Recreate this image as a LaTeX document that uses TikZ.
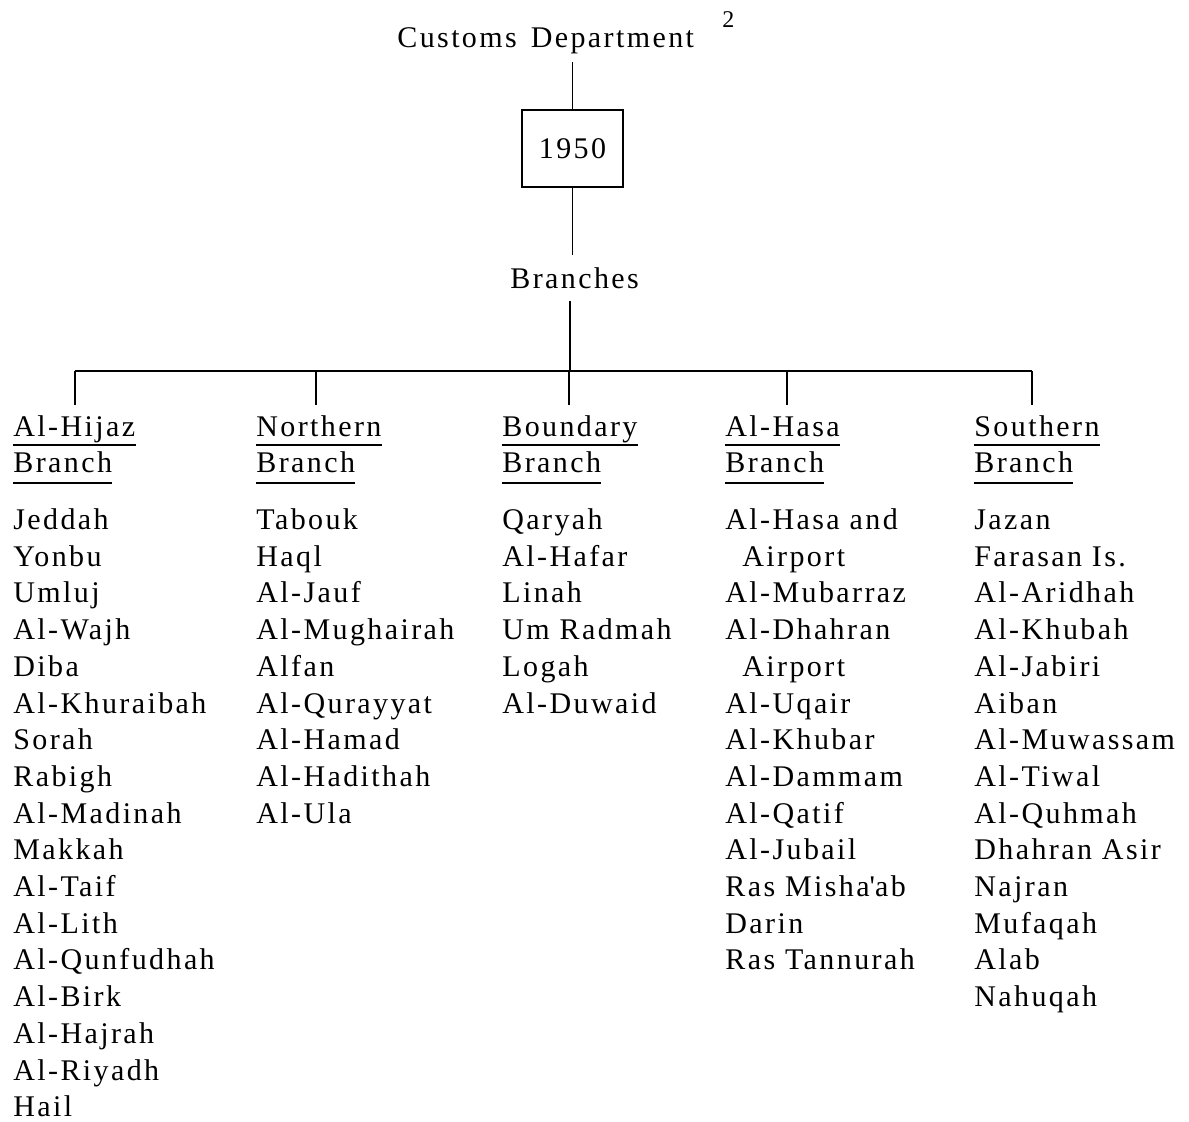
\documentclass[tikz,border=0pt]{standalone}
\usepackage{fontspec}
\setmainfont{Liberation Serif}[LetterSpace=8]
\begin{document}
\begin{tikzpicture}[x=0.5pt,y=-0.5pt,
  txt/.style={anchor=base west,inner sep=0pt,font=\fontsize{15}{18}\selectfont},
  yearbox/.style={draw,line width=0.7pt,minimum width=50.5pt,minimum height=38.5pt,inner sep=0pt,font=\fontsize{15}{18}\selectfont},
  conn/.style={line width=0.6pt},
  uline/.style={line width=0.7pt}]
\useasboundingbox (0,0) rectangle (1189,1121);
% top of the tree
\node[txt] (cd) at (397,47) {Customs\hspace{7pt}Department};
\node[txt,font=\fontsize{12}{14}\selectfont] (fn) at (722,27) {2};
\node[yearbox] (yr) at (572.5,148.5) {1950};
\node[txt] (br) at (510,288) {Branches};
\draw[conn,shorten >=4pt] (yr.north) -- (yr.north |- cd.south);
\draw[conn,shorten >=6pt] (yr.south) -- (yr.south |- br.north);
\coordinate (bar) at (570,371);
\draw[conn,shorten <=6pt] (br.south -| bar) -- (bar);
\coordinate (d1) at (75,371);
\coordinate (d2) at (316,371);
\coordinate (d3) at (569,371);
\coordinate (d4) at (787,371);
\coordinate (d5) at (1032,371);
\draw[conn] (d1) -- (d5);
% headings
\node[txt] (h1a) at (13,436) {Al-Hijaz};
\node[txt] (h1b) at (13,472) {Branch};
\node[txt] (h2a) at (256,436) {Northern};
\node[txt] (h2b) at (256,472) {Branch};
\node[txt] (h3a) at (502,436) {Boundary};
\node[txt] (h3b) at (502,472) {Branch};
\node[txt] (h4a) at (725,436) {Al-Hasa};
\node[txt] (h4b) at (725,472) {Branch};
\node[txt] (h5a) at (974,436) {Southern};
\node[txt] (h5b) at (974,472) {Branch};
\foreach \k in {1,...,5}
  \draw[conn,shorten >=5pt] (d\k) -- (d\k |- h\k a.north);
\foreach \n in {h1a,h2a,h3a,h4a,h5a}
  \draw[uline] ([yshift=-4.5pt]\n.base west) -- ([yshift=-4.5pt]\n.base east);
\foreach \n in {h1b,h2b,h3b,h4b,h5b}
  \draw[uline] ([yshift=-5.5pt]\n.base west) -- ([yshift=-5.5pt]\n.base east);
% lists
\foreach \t [count=\i from 0] in {Jeddah,Yonbu,Umluj,Al-Wajh,Diba,Al-Khuraibah,Sorah,Rabigh,Al-Madinah,Makkah,Al-Taif,Al-Lith,Al-Qunfudhah,Al-Birk,Al-Hajrah,Al-Riyadh,Hail}
  \node[txt] (a\i) at (13,{529.5+36.7*\i}) {\t};
\foreach \t [count=\i from 0] in {Tabouk,Haql,Al-Jauf,Al-Mughairah,Alfan,Al-Qurayyat,Al-Hamad,Al-Hadithah,Al-Ula}
  \node[txt] (b\i) at (256,{529.5+36.7*\i}) {\t};
\foreach \t [count=\i from 0] in {Qaryah,Al-Hafar,Linah,Um Radmah,Logah,Al-Duwaid}
  \node[txt] (c\i) at (502,{529.5+36.7*\i}) {\t};
\foreach \t [count=\i from 0] in {Al-Hasa and,\hspace*{8.5pt}Airport,Al-Mubarraz,Al-Dhahran,\hspace*{8.5pt}Airport,Al-Uqair,Al-Khubar,Al-Dammam,Al-Qatif,Al-Jubail,Ras Misha\textquotesingle ab,Darin,Ras Tannurah}
  \node[txt] (e\i) at (725,{529.5+36.7*\i}) {\t};
\foreach \t [count=\i from 0] in {Jazan,Farasan Is.,Al-Aridhah,Al-Khubah,Al-Jabiri,Aiban,Al-Muwassam,Al-Tiwal,Al-Quhmah,Dhahran Asir,Najran,Mufaqah,Alab,Nahuqah}
  \node[txt] (f\i) at (974,{529.5+36.7*\i}) {\t};
\end{tikzpicture}
\end{document}
